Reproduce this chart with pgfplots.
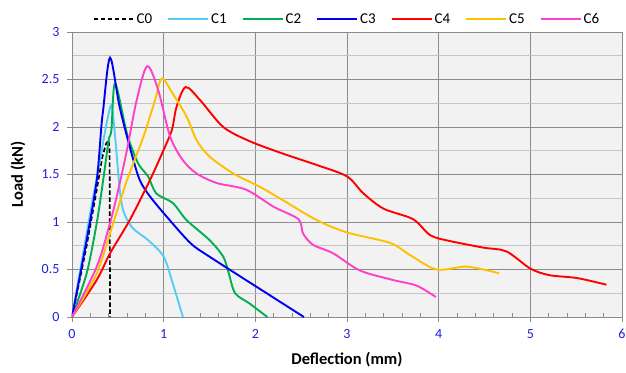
\documentclass[border=0pt]{standalone}
\usepackage{fontspec}
\setmainfont{Carlito}
\usepackage{pgfplots}
\pgfplotsset{compat=1.18}
\definecolor{bgc}{HTML}{F2F2F2}
\definecolor{gmaj}{HTML}{8C8C8C}
\definecolor{gmin}{HTML}{C4C4C4}
\definecolor{tickblue}{HTML}{2020DD}
\definecolor{cI}{HTML}{55CCF5}
\definecolor{cII}{HTML}{00B050}
\definecolor{cIII}{HTML}{0000F0}
\definecolor{cIV}{HTML}{FF0000}
\definecolor{cV}{HTML}{FFC000}
\definecolor{cVI}{HTML}{FF40C8}
\begin{document}
\begin{tikzpicture}
\path[use as bounding box] (-72pt,-55pt) rectangle (554pt,317pt);
\begin{axis}[
  scale only axis, width=550pt, height=285pt,
  xmin=0, xmax=6, ymin=0, ymax=3,
  xtick={0,1,...,6}, ytick={0,0.5,...,3},
  minor x tick num=4, minor y tick num=1,
  xmajorgrids, ymajorgrids, yminorgrids,
  major grid style={color=gmaj, line width=0.9pt},
  minor grid style={color=gmin, line width=1pt},
  axis background/.style={fill=bgc},
  axis line style={color=gmaj, line width=0.9pt},
  tick pos=left, tick align=outside,
  major tick length=5pt, minor tick length=4pt,
  every tick/.style={color=gmaj, line width=0.8pt},
  minor x tick style={yshift=4pt},
  minor y tick style={draw=none},
  /pgf/number format/assume math mode=true,
  ticklabel style={font=\fontsize{14}{16}\selectfont, text=tickblue},
  xticklabel style={yshift=-4pt},
  yticklabel style={xshift=-4pt},
  xlabel={\textbf{Deflection (mm)}}, ylabel={\textbf{Load (kN)}},
  label style={font=\fontsize{16.5}{18}\selectfont},
  xlabel style={at={(axis description cs:0.5,-0.151)}, anchor=center},
  ylabel style={at={(axis description cs:-0.098,0.5)}, anchor=center},
  legend columns=-1,
  legend style={at={(axis description cs:0.5,1)}, anchor=center, yshift=13pt, draw=none, fill=none,
    font=\fontsize{15}{16}\selectfont, /tikz/every even column/.append style={column sep=13pt}},
  legend image code/.code={\draw[#1] (0pt,0pt) -- (40pt,0pt);},
  every axis plot/.append style={line width=1.9pt},
]
\addplot[black, dash pattern=on 4.5pt off 2.5pt, line width=1.7pt] coordinates {
(0,0) (0.15,0.7) (0.27,1.34) (0.33,1.68) (0.37,1.82) (0.40,1.86) (0.41,1.75) (0.415,0)};
\addlegendentry{C0}
\addplot[cI, smooth, tension=0.5] coordinates {
(0,0) (0.1,0.55) (0.2,1.1) (0.3,1.62) (0.37,2.0) (0.43,2.23) (0.47,1.9) (0.54,1.20) (0.65,0.95) (0.83,0.81) (1.0,0.635) (1.1,0.35) (1.21,0)};
\addlegendentry{C1}
\addplot[cII, smooth, tension=0.5] coordinates {
(0,0) (0.16,0.46) (0.27,0.99) (0.34,1.44) (0.40,1.86) (0.43,1.97) (0.47,2.46) (0.6,1.93) (0.72,1.62) (0.83,1.48) (0.92,1.30) (1.1,1.2) (1.25,1.02) (1.5,0.81) (1.65,0.635) (1.71,0.46) (1.78,0.25) (1.94,0.14) (2.13,0)};
\addlegendentry{C2}
\addplot[cIII, smooth, tension=0.5] coordinates {
(0,0) (0.16,0.81) (0.27,1.44) (0.32,2.0) (0.34,2.18) (0.415,2.73) (0.52,2.21) (0.65,1.72) (0.74,1.44) (0.85,1.27) (1.03,1.06) (1.29,0.78) (1.5,0.635) (2.27,0.16) (2.53,0)};
\addlegendentry{C3}
\addplot[cIV, smooth, tension=0.5] coordinates {
(0,0) (0.27,0.39) (0.415,0.67) (0.63,1.02) (0.85,1.44) (1.0,1.76) (1.09,1.97) (1.14,2.21) (1.24,2.42) (1.40,2.28) (1.65,2.0) (1.94,1.85) (2.3,1.72) (2.67,1.6) (3.0,1.48) (3.18,1.30) (3.40,1.14) (3.72,1.03) (3.91,0.86) (4.12,0.80) (4.49,0.73) (4.74,0.69) (5.0,0.51) (5.21,0.44) (5.51,0.41) (5.83,0.34)};
\addlegendentry{C4}
\addplot[cV, smooth, tension=0.5] coordinates {
(0,0) (0.27,0.46) (0.45,0.99) (0.6,1.44) (0.78,1.90) (0.905,2.28) (0.98,2.51) (1.1,2.35) (1.25,2.11) (1.36,1.86) (1.5,1.69) (1.76,1.51) (2.05,1.37) (2.3,1.23) (2.67,1.02) (3.0,0.89) (3.47,0.78) (3.69,0.65) (3.98,0.50) (4.31,0.53) (4.66,0.46)};
\addlegendentry{C5}
\addplot[cVI, smooth, tension=0.5] coordinates {
(0,0) (0.27,0.53) (0.415,0.99) (0.505,1.34) (0.6,1.76) (0.705,2.28) (0.82,2.64) (0.94,2.39) (1.07,1.90) (1.21,1.65) (1.36,1.51) (1.58,1.41) (1.9,1.34) (2.2,1.16) (2.47,1.03) (2.52,0.88) (2.63,0.76) (2.85,0.67) (3.14,0.49) (3.5,0.39) (3.76,0.33) (3.97,0.21)};
\addlegendentry{C6}
\end{axis}
\end{tikzpicture}
\end{document}
